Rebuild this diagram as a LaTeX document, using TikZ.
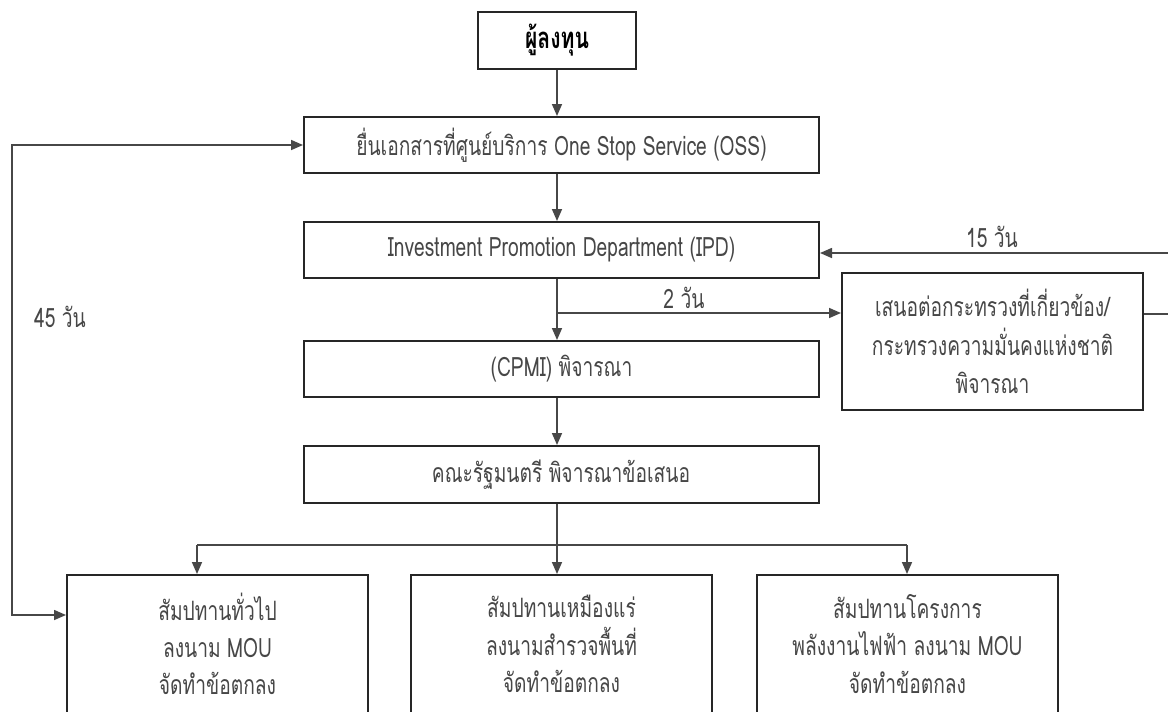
\documentclass[tikz,border=0pt]{standalone}
\usepackage{fontspec}
\newfontfamily\thaifont[Script=Thai,FakeStretch=0.72]{Loma}
\usetikzlibrary{arrows.meta}
\begin{document}
\begin{tikzpicture}[x=0.75pt,y=-0.75pt,
  box/.style={draw=black!85, line width=1.5pt, inner sep=0pt, align=center,
    text=black!72, font=\thaifont\fontsize{20}{29}\selectfont},
  mainbox/.style={box, minimum width=386.25pt, minimum height=42pt},
  lowbox/.style={box, minimum width=225.75pt, minimum height=112.5pt},
  lowtext/.style={inner sep=0pt, align=center, text=black!72,
    font=\thaifont\fontsize{20}{28}\selectfont},
  lbl/.style={inner sep=0pt, text=black!72, font=\thaifont\fontsize{20}{29}\selectfont},
  conn/.style={draw=black!72, line width=1.2pt},
  tipA/.style={-{Triangle[length=9pt,width=7.5pt]}},
  tipB/.style={{Triangle[length=9pt,width=7.5pt]}-{Triangle[length=9pt,width=7.5pt]}}]
\useasboundingbox (0,0) rectangle (1168,711);
\clip (0,0) rectangle (1168,711);
\fill[white] (0,0) rectangle (1168,711);

\node[box, text=black, font=\thaifont\bfseries\fontsize{22}{29}\selectfont,
  minimum width=118.5pt, minimum height=42.75pt] (top) at (557,40.5) {ผู้ลงทุน};
\node[mainbox] (oss) at (561.5,145) {ยื่นเอกสารที่ศูนย์บริการ One Stop Service (OSS)};
\node[mainbox] (ipd) at (561.5,250) {Investment Promotion Department (IPD)};
\node[mainbox] (cpmi) at (561.5,369) {(CPMI) พิจารณา};
\node[mainbox, minimum height=42.75pt] (cab) at (561,474.5) {คณะรัฐมนตรี พิจารณาข้อเสนอ};
\node[box, minimum width=225.75pt, minimum height=102.75pt] (side) at (992.5,341.5)
  {เสนอต่อกระทรวงที่เกี่ยวข้อง/\\กระทรวงความมั่นคงแห่งชาติ\\พิจารณา};
\node[lowbox] (b1) at (217.5,650) {};
\node[lowbox] (b2) at (561.5,650) {};
\node[lowbox] (b3) at (907.5,650) {};
\node[lowtext] (t1) at (217.5,644) {สัมปทานทั่วไป\\ลงนาม MOU\\จัดทำข้อตกลง};
\node[lowtext] (t2) at (561.5,644) {สัมปทานเหมืองแร่\\ลงนามสำรวจพื้นที่\\จัดทำข้อตกลง};
\node[lowtext] (t3) at (907.5,644) {สัมปทานโครงการ\\พลังงานไฟฟ้า ลงนาม MOU\\จัดทำข้อตกลง};

\node[lbl] (l15) at (992,237) {15 วัน};
\node[lbl] (l2) at (684,298) {2 วัน};
\node[lbl] (l45) at (60,317) {45 วัน};

\coordinate (spx) at (557,0);
\draw[conn,tipA] (top.south) -- (top.south |- oss.north);
\draw[conn,tipA] (oss.south -| spx) -- (ipd.north -| spx);
\draw[conn,tipA] (ipd.south -| spx) -- (cpmi.north -| spx);
\coordinate (j2) at (557,313);
\draw[conn,tipA] (j2) -- (j2 -| side.west);
\draw[conn,tipA] (cpmi.south -| spx) -- (cab.north -| spx);
\coordinate (br) at (557,545);
\coordinate (bl) at (197,545);
\coordinate (brr) at (907,545);
\draw[conn] (cab.south -| spx) -- (br);
\draw[conn] (bl) -- (brr);
\draw[conn,tipA] (bl) -- (bl |- b1.north);
\draw[conn,tipA] (br) -- (br |- b2.north);
\draw[conn,tipA] (brr) -- (brr |- b3.north);

\coordinate (fb) at (12,615);
\draw[conn,tipB] (fb -| b1.west) -- (fb) -- (fb |- oss.west) -- (oss.west);

\coordinate (rr) at (1180,314);
\coordinate (r15) at (1180,253);
\draw[conn,tipA] (side.east |- rr) -- (rr) -- (r15) -- (r15 -| ipd.east);
\end{tikzpicture}
\end{document}
